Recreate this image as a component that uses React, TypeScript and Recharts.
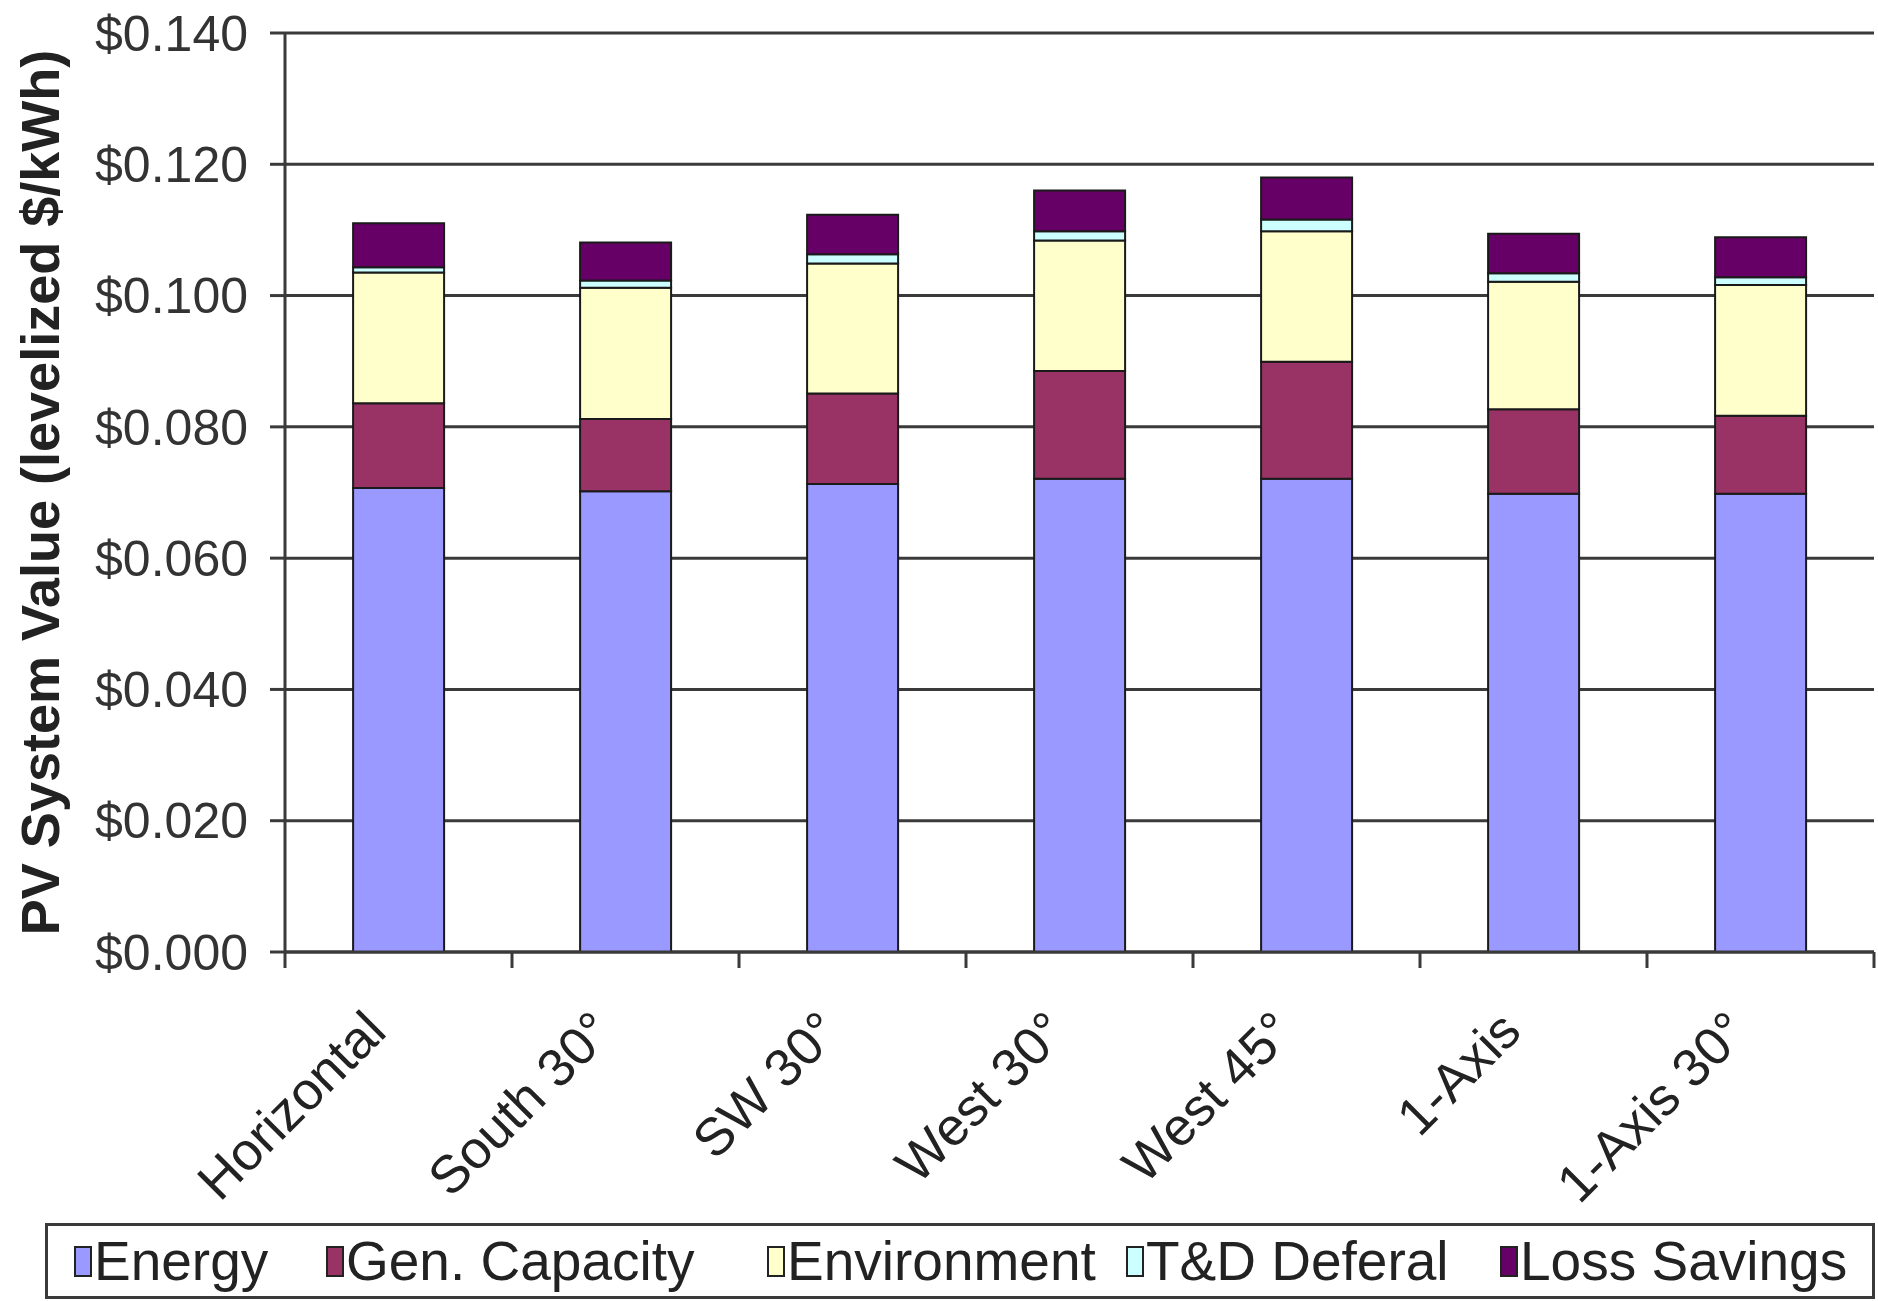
import * as React from "react";
import {
	Bar,
	BarChart,
	CartesianGrid,
	Legend,
	XAxis,
	YAxis,
} from "recharts";

const CATEGORIES = [
	"Horizontal",
	"South 30°",
	"SW 30°",
	"West 30°",
	"West 45°",
	"1-Axis",
	"1-Axis 30°",
];
const ENERGY = [0.0707, 0.0702, 0.0713, 0.0721, 0.0721, 0.0698, 0.0698];
const GEN_CAPACITY = [0.0129, 0.011, 0.0138, 0.0164, 0.0178, 0.0129, 0.0119];
const ENVIRONMENT = [0.0199, 0.02, 0.0198, 0.0199, 0.0199, 0.0194, 0.0199];
const TD_DEFERAL = [0.0008, 0.0011, 0.0014, 0.0014, 0.0018, 0.0013, 0.0012];
const LOSS_SAVINGS = [0.0067, 0.0058, 0.006, 0.0062, 0.0064, 0.006, 0.0061];
const Y_TICKS = [0, 0.02, 0.04, 0.06, 0.08, 0.1, 0.12, 0.14];

const SERIES = [
	{ key: "energy", name: "Energy", color: "#9999FF" },
	{ key: "gen", name: "Gen. Capacity", color: "#993366" },
	{ key: "env", name: "Environment", color: "#FFFFCC" },
	{ key: "td", name: "T&D Deferal", color: "#CCFFFF" },
	{ key: "loss", name: "Loss Savings", color: "#660066" },
];

// left edge of each legend swatch inside the legend box
const LEGEND_LEFT = [26, 278, 719, 1078, 1452];

const data = CATEGORIES.map((name, i) => ({
	name,
	energy: ENERGY[i],
	gen: GEN_CAPACITY[i],
	env: ENVIRONMENT[i],
	td: TD_DEFERAL[i],
	loss: LOSS_SAVINGS[i],
}));

const FONT = '"Liberation Sans", Arial, sans-serif';
const LINE = "#3a3a3a";

function CategoryTick(props: any) {
	const { x, y, payload, index } = props;
	const half = payload?.offset || 113.5;
	const last = index === CATEGORIES.length - 1;
	return (
		<g>
			<line x1={x - half} x2={x - half} y1={y - 16} y2={y} stroke={LINE} strokeWidth={3} />
			{last && (
				<line x1={x + half} x2={x + half} y1={y - 16} y2={y} stroke={LINE} strokeWidth={3} />
			)}
			<g transform={`translate(${x - 10},${y + 66}) rotate(-45)`}>
				<text
					x={0}
					y={0}
					textAnchor="end"
					fontFamily={FONT}
					fontSize={53}
					fill="#222"
				>
					{payload.value}
				</text>
			</g>
		</g>
	);
}

function LegendBox() {
	return (
		<div
			style={{
				position: "relative",
				boxSizing: "border-box",
				width: 1830,
				height: 76,
				border: `3px solid ${LINE}`,
				background: "#fff",
				fontFamily: FONT,
				fontSize: 55,
				color: "#222",
			}}
		>
			{SERIES.map((s, i) => (
				<span
					key={s.key}
					style={{
						position: "absolute",
						left: LEGEND_LEFT[i],
						top: 0,
						height: 70,
						display: "flex",
						alignItems: "center",
						whiteSpace: "nowrap",
					}}
				>
					<span
						style={{
							display: "inline-block",
							boxSizing: "border-box",
							width: 18,
							height: 31,
							background: s.color,
							border: "2px solid #222",
							marginRight: 2,
						}}
					/>
					{s.name}
				</span>
			))}
		</div>
	);
}

export default function App() {
	return (
		<div style={{ position: "absolute", left: 0, top: 0, background: "#fff" }}>
			<BarChart
				width={1878}
				height={1301}
				data={data}
				margin={{ top: 33, right: 4, bottom: 0, left: 0 }}
				barCategoryGap="30%"
			>
				<CartesianGrid vertical={false} stroke={LINE} strokeWidth={3} />
				<XAxis
					dataKey="name"
					height={349}
					interval={0}
					tickSize={16}
					tickMargin={0}
					tickLine={false}
					axisLine={{ stroke: LINE, strokeWidth: 3 }}
					tick={<CategoryTick />}
				/>
				<YAxis
					width={285}
					domain={[0, 0.14]}
					ticks={Y_TICKS}
					interval={0}
					tickSize={15}
					tickMargin={22}
					tickFormatter={(v: number) => `$${v.toFixed(3)}`}
					tick={{ fontFamily: FONT, fontSize: 50, fill: "#333" }}
					tickLine={{ stroke: LINE, strokeWidth: 3 }}
					axisLine={{ stroke: LINE, strokeWidth: 3 }}
					label={{
						content: ({ viewBox }: any) => {
							const cx = viewBox.x + 40;
							const cy = viewBox.y + viewBox.height / 2;
							return (
								<text
									x={cx}
									y={cy}
									transform={`rotate(-90 ${cx} ${cy})`}
									textAnchor="middle"
									dominantBaseline="central"
									fontFamily={FONT}
									fontWeight="bold"
									fontSize={54}
									fill="#222"
								>
									PV System Value (levelized $/kWh)
								</text>
							);
						},
					}}
				/>
				<YAxis
					yAxisId="right"
					orientation="right"
					width={0}
					domain={[0, 0.14]}
					tick={false}
					tickLine={false}
					axisLine={{ stroke: LINE, strokeWidth: 3 }}
				/>
				<Legend
					layout="horizontal"
					verticalAlign="middle"
					align="center"
					wrapperStyle={{ left: 45, top: 1223, width: 1830 }}
					content={() => <LegendBox />}
				/>
				{SERIES.map((s) => (
					<Bar
						key={s.key}
						dataKey={s.key}
						name={s.name}
						stackId="a"
						fill={s.color}
						stroke="#1a1a1a"
						strokeWidth={2}
						isAnimationActive={false}
					/>
				))}
			</BarChart>
		</div>
	);
}
